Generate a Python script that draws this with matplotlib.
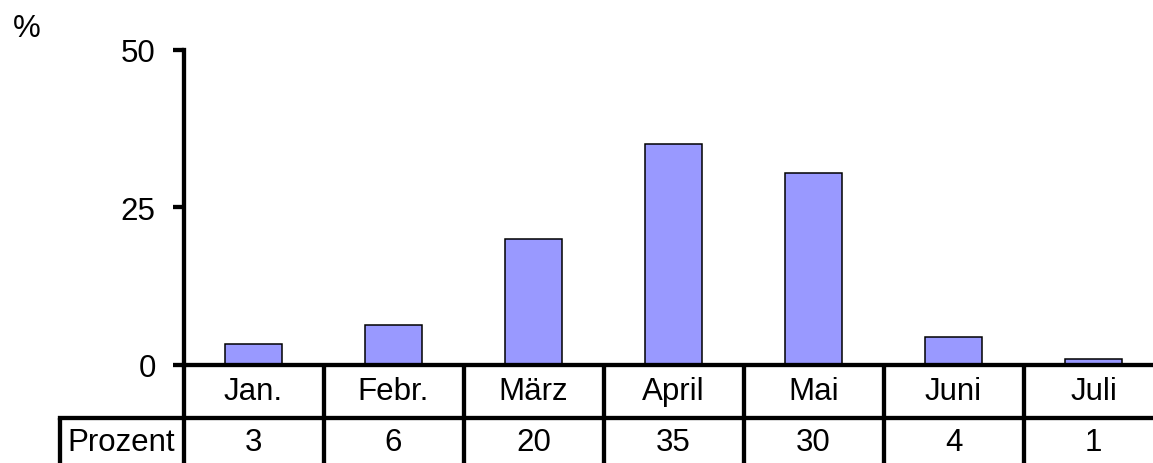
import matplotlib
matplotlib.use("Agg")
import matplotlib.pyplot as plt
from matplotlib.lines import Line2D
from matplotlib import transforms

plt.rcParams['font.family'] = ['Liberation Sans', 'DejaVu Sans']

categories = ["Jan.", "Febr.", "März", "April", "Mai", "Juni", "Juli"]
values = [3.3, 6.25, 19.9, 35.1, 30.4, 4.4, 0.95]
table_labels = ["3", "6", "20", "35", "30", "4", "1"]
row_label = "Prozent"
y_ticks = [0, 25, 50]
y_unit = "%"

W, H = 1153, 464
DPI = 100
fig = plt.figure(figsize=(W / DPI, H / DPI), dpi=DPI)

def fx(px):
    return px / W

def fy(py):
    return 1 - py / H

ax_left, ax_right = 183.5, 1163.5
ax_top, ax_bottom = 51, 365.5
ax = fig.add_axes([fx(ax_left), fy(ax_bottom), fx(ax_right - ax_left), (ax_bottom - ax_top) / H])

FS = 22.5
LW = 3.1
BLACK = "black"

x = list(range(len(categories)))
ax.bar(x, values, width=0.41, color="#9999FF", edgecolor=BLACK, linewidth=1.1, zorder=2)
ax.set_xlim(-0.5, len(categories) - 0.5)
ax.set_ylim(0, 50)
ax.set_yticks(y_ticks)
ax.set_yticklabels([str(t) for t in y_ticks], fontsize=FS)
ax.set_xticks([])
ax.tick_params(axis='y', direction='out', length=8, width=LW, pad=12)
for s in ["top", "right"]:
    ax.spines[s].set_visible(False)
ax.spines["left"].set_linewidth(LW)
ax.spines["bottom"].set_linewidth(LW)
ax.spines["left"].set_capstyle("projecting")
ax.spines["bottom"].set_zorder(3)

# "%" label
fig.text(fx(27), fy(29), y_unit, fontsize=FS, ha="center", va="center")

# Table
blend = transforms.blended_transform_factory(ax.transData, fig.transFigure)
row1_y = 419
bottom_y = H + 5

# left spine extension
fig.add_artist(Line2D([fx(ax_left), fx(ax_left)], [fy(ax_bottom), fy(bottom_y)],
                      color=BLACK, lw=LW, solid_capstyle="butt"))
# category separators
for i in range(len(categories) - 1):
    ln = Line2D([i + 0.5, i + 0.5], [fy(ax_bottom), fy(bottom_y)], transform=blend,
                color=BLACK, lw=LW, solid_capstyle="butt")
    fig.add_artist(ln)
# horizontal row line
fig.add_artist(Line2D([fx(60.5), fx(W + 20)], [fy(row1_y), fy(row1_y)],
                      color=BLACK, lw=LW, solid_capstyle="projecting"))
# left box border
fig.add_artist(Line2D([fx(60.5), fx(60.5)], [fy(row1_y), fy(bottom_y)],
                      color=BLACK, lw=LW, solid_capstyle="butt"))

# texts
for i, (c, t) in enumerate(zip(categories, table_labels)):
    fig.text(i, fy(392), c, transform=blend, fontsize=FS, ha="center", va="center")
    fig.text(i, fy(443), t, transform=blend, fontsize=FS, ha="center", va="center")
fig.text(fx(67), fy(443), row_label, fontsize=FS, ha="left", va="center")

fig.savefig("out.png", dpi=DPI)
